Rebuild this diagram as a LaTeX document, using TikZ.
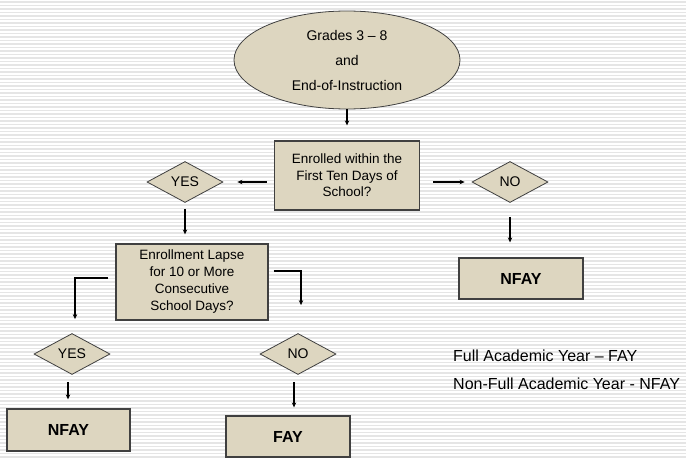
\documentclass[tikz,border=0pt]{standalone}
\usepackage{fontspec}
\setmainfont{Liberation Sans}
\usepackage{xcolor}
\usetikzlibrary{shapes.geometric,arrows.meta}

\definecolor{tan}{HTML}{DDD6C0}
\definecolor{edge}{HTML}{404040}

\begin{document}
\begin{tikzpicture}[x=1pt,y=-1pt,
        box/.style={rectangle, draw=edge, line width=1.3pt, fill=tan, align=center, inner sep=0pt},
        choice/.style={diamond, draw=edge, line width=0.8pt, fill=tan, inner sep=0pt, minimum width=76pt, minimum height=41pt, font=\fontsize{14}{16}\selectfont},
        arrow/.style={-{Stealth[length=5pt,width=4.5pt]}, line width=1.6pt}
    ]
        \useasboundingbox (0,0) rectangle (686,458);
        \fill[white] (0,0) rectangle (686,458);
        \foreach \y in {2,5.5,...,458}
            \draw[black!10, line width=1.2pt] (0,\y) -- (686,\y);

        \node[ellipse, draw=edge, line width=0.8pt, fill=tan, minimum width=226pt, minimum height=98pt, align=center, font=\fontsize{14}{25}\selectfont] (grades) at (347,60) {Grades 3 -- 8\\and\\End-of-Instruction};

        \node[box, minimum width=145pt, minimum height=69pt, font=\fontsize{13.5}{16.5}\selectfont] (enrolled) at (347,175.5) {Enrolled within the\\First Ten Days of\\School?};
        \node[choice] (yestop) at (185,182) {YES};
        \node[choice] (notop) at (510,182) {NO};

        \node[box, minimum width=152pt, minimum height=76pt, font=\fontsize{13.5}{17}\selectfont] (lapse) at (192,282) {Enrollment Lapse\\for 10 or More\\Consecutive\\School Days?};
        \node[box, minimum width=124pt, minimum height=41pt, font=\bfseries\fontsize{16}{18}\selectfont] (nfayright) at (521,278.5) {NFAY};

        \node[choice] (yesbottom) at (72,354) {YES};
        \node[choice] (nobottom) at (298,354) {NO};

        \node[box, minimum width=123pt, minimum height=42pt, font=\bfseries\fontsize{16}{18}\selectfont] (nfayleft) at (68.5,430) {NFAY};
        \node[box, minimum width=124pt, minimum height=41pt, font=\bfseries\fontsize{16}{18}\selectfont] (fay) at (288,436.5) {FAY};

        \draw[arrow, shorten >=15pt] (grades) -- (enrolled);
        \draw[arrow, shorten <=7pt, shorten >=14pt] (enrolled.west |- yestop) -- (yestop.east);
        \draw[arrow, shorten <=13pt, shorten >=7pt] (enrolled.east |- notop) -- (notop.west);
        \draw[arrow, shorten <=6pt, shorten >=9pt] (yestop.south) -- (yestop.south |- lapse.north);
        \draw[arrow, shorten <=14pt, shorten >=15pt] (notop.south) -- (notop.south |- nfayright.north);
        \draw[arrow, shorten <=7pt, shorten >=14pt] ([yshift=4pt]lapse.west) -| ([xshift=3pt]yesbottom.north);
        \draw[arrow, shorten <=5pt, shorten >=28pt] ([yshift=11pt]lapse.east) -| ([xshift=3pt]nobottom.north);
        \draw[arrow, shorten <=7pt, shorten >=9pt] ([xshift=-4pt]yesbottom.south) -- ([xshift=-4pt]yesbottom.south |- nfayleft.north);
        \draw[arrow, shorten <=7pt, shorten >=8pt] ([xshift=-4pt]nobottom.south) -- ([xshift=-4pt]nobottom.south |- fay.north);

        \node[anchor=west, font=\fontsize{16}{18}\selectfont, inner sep=0pt] (keyfay) at (453,356) {Full Academic Year -- FAY};
        \node[anchor=west, font=\fontsize{16}{18}\selectfont, inner sep=0pt] (keynfay) at (453,384) {Non-Full Academic Year - NFAY};
    \end{tikzpicture}
\end{document}
